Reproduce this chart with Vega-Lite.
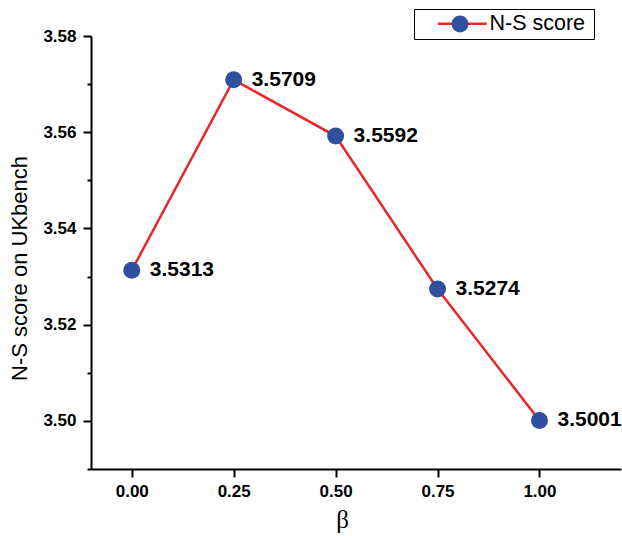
{
  "$schema": "https://vega.github.io/schema/vega-lite/v6.json",
  "width": 530,
  "height": 433,
  "autosize": {"type": "none"},
  "padding": {"left": 91, "top": 36, "right": 1, "bottom": 67},
  "config": {"view": {"stroke": null}, "font": "Liberation Sans"},
  "data": {
    "values": [
      {"beta": 0.0, "score": 3.5313},
      {"beta": 0.25, "score": 3.5709},
      {"beta": 0.5, "score": 3.5592},
      {"beta": 0.75, "score": 3.5274},
      {"beta": 1.0, "score": 3.5001}
    ]
  },
  "encoding": {
    "x": {
      "field": "beta",
      "type": "quantitative",
      "scale": {"domain": [-0.1, 1.2], "nice": false, "zero": false},
      "axis": {
        "title": "β",
        "titleFont": "Liberation Serif",
        "titleFontSize": 25,
        "titleFontWeight": "normal",
        "titleColor": "black",
        "titleX": 251,
        "titleY": 38,
        "values": [0, 0.25, 0.5, 0.75, 1],
        "format": ".2f",
        "labelFont": "Liberation Sans",
        "labelFontSize": 17,
        "labelFontWeight": "bold",
        "labelColor": "black",
        "labelPadding": 6,
        "tickSize": 8,
        "tickWidth": 2,
        "tickColor": "black",
        "domainColor": "black",
        "domainWidth": 2,
        "grid": false
      }
    },
    "y": {
      "field": "score",
      "type": "quantitative",
      "scale": {"domain": [3.49, 3.58], "nice": false, "zero": false},
      "axis": {
        "title": "N-S score on UKbench",
        "titleFont": "Liberation Sans",
        "titleFontSize": 22,
        "titleFontWeight": "normal",
        "titleColor": "black",
        "titleX": -60,
        "titleY": 232,
        "values": [3.49, 3.5, 3.51, 3.52, 3.53, 3.54, 3.55, 3.56, 3.57, 3.58],
        "labelExpr": "round(datum.value*100) % 2 == 0 ? format(datum.value, '.2f') : ''",
        "labelFont": "Liberation Sans",
        "labelFontSize": 17,
        "labelFontWeight": "bold",
        "labelColor": "black",
        "labelPadding": 7,
        "tickSize": {"condition": {"test": "round(datum.value*100) % 2 == 0", "value": 8}, "value": 4},
        "tickWidth": 2,
        "tickColor": "black",
        "domainColor": "black",
        "domainWidth": 2,
        "grid": false
      }
    }
  },
  "layer": [
    {
      "mark": {"type": "line", "strokeWidth": 2.5},
      "encoding": {
        "stroke": {
          "datum": "N-S score",
          "scale": {"range": ["#E8262B"]},
          "legend": {
            "orient": "none",
            "legendX": 323,
            "legendY": -27,
            "title": " ",
            "titleOrient": "right",
            "titleFontSize": 4,
            "titlePadding": 5,
            "symbolType": "M-7,0H7",
            "symbolSize": 49,
            "symbolStrokeWidth": 2.5,
            "symbolOffset": 33.5,
            "labelOffset": 16.5,
            "labelFont": "Liberation Sans",
            "labelFontSize": 21.5,
            "labelColor": "black",
            "padding": 4,
            "strokeColor": "black",
            "cornerRadius": 0,
            "zindex": 1
          }
        }
      }
    },
    {
      "mark": {"type": "point", "filled": true, "opacity": 1, "size": 289, "strokeWidth": 0},
      "encoding": {
        "fill": {
          "datum": "pt",
          "scale": {"range": ["#2E509E"]},
          "legend": {
            "orient": "none",
            "legendX": 360.5,
            "legendY": -20.5,
            "title": null,
            "symbolType": "circle",
            "symbolSize": 289,
            "symbolStrokeWidth": 0,
            "symbolOpacity": 1,
            "labelExpr": "''",
            "labelFontSize": 17,
            "padding": 0,
            "zindex": 2
          }
        }
      }
    },
    {
      "mark": {"type": "text", "align": "left", "baseline": "middle", "dx": 18, "fontSize": 21, "fontWeight": "bold", "color": "black", "font": "Liberation Sans"},
      "encoding": {"text": {"field": "score", "type": "quantitative", "format": ".4f"}}
    }
  ]
}
